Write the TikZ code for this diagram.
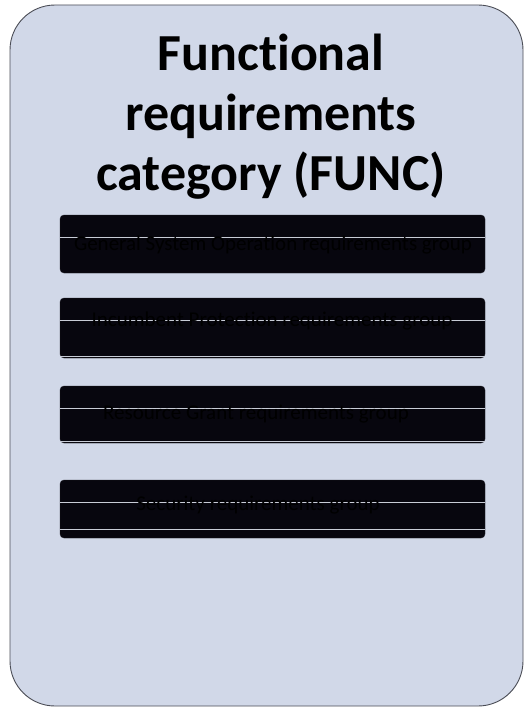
\documentclass[tikz,border=0pt]{standalone}
\usepackage{fontspec}
\setmainfont{Carlito}[Ligatures=NoCommon]
\usepackage{tikz}
\usetikzlibrary{positioning, calc}
\definecolor{categoryfill}{HTML}{D1D8E8}
\definecolor{categoryedge}{HTML}{4A4C55}
\definecolor{groupfill}{HTML}{07060E}
\definecolor{groupline}{HTML}{C8CCD6}

\begin{document}
\begin{tikzpicture}[x=1pt, y=-1pt,
  group/.style={draw=groupfill!80!gray, fill=groupfill, rounded corners=4pt,
                minimum width=425pt, minimum height=58pt, inner sep=0pt},
  grouptext/.style={font=\fontsize{21}{24}\selectfont, text=black, inner sep=0pt},
  gapline/.style={draw=groupline, line width=0.9pt}
]
  \useasboundingbox (0,0) rectangle (525,709);

  % category frame and heading
  \draw[categoryedge, fill=categoryfill, line width=0.9pt, rounded corners=45pt]
    (10,5) rectangle (523,706);
  \node[font=\bfseries\fontsize{52}{60}\selectfont, align=center, inner sep=0pt]
    (title) at (271,117) {Functional\\requirements\\category (FUNC)};

  % requirement groups
  \node[group] (gso) at (272.5,244) {};
  \node[group, minimum height=60pt] (ip) at (272.5,328) {};
  \node[group, minimum height=57pt] (rg) at (272.5,414.5) {};
  \node[group] (sec) at (272.5,509) {};

  \draw[gapline] ([yshift=7pt]gso.west) -- ([yshift=7pt]gso.east);
  \draw[gapline] ([yshift=8pt]ip.west) -- ([yshift=8pt]ip.east);
  \draw[gapline] ([yshift=2pt]ip.south west) -- ([yshift=2pt]ip.south east);
  \draw[gapline] ([yshift=6.5pt]rg.west) -- ([yshift=6.5pt]rg.east);
  \draw[gapline] ([yshift=2pt]rg.south west) -- ([yshift=2pt]rg.south east);
  \draw[gapline] ([yshift=7pt]sec.west) -- ([yshift=7pt]sec.east);
  \draw[gapline] ([yshift=9pt]sec.south west) -- ([yshift=9pt]sec.south east);

  \node[grouptext] (gsotext) at (273,245) {General System Operation requirements group};
  \node[grouptext] (iptext) at (272,321) {Incumbent Protection requirements group};
  \node[grouptext] (rgtext) at (256,414) {Resource Grant requirements group};
  \node[grouptext] (sectext) at (258,505) {Security requirements group};
\end{tikzpicture}
\end{document}
